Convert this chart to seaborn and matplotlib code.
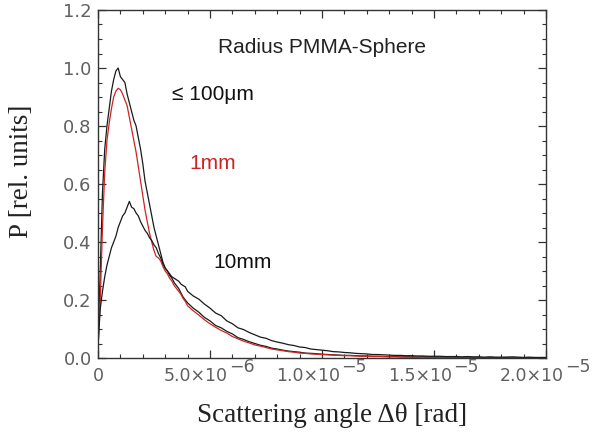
import numpy as np
import pandas as pd
import matplotlib
matplotlib.use("Agg")
import matplotlib.pyplot as plt
import seaborn as sns
from matplotlib.ticker import MultipleLocator, FixedLocator
from matplotlib.transforms import offset_copy

# ---- data (angles in micro-rad, values in rel. units) ----
x_fine = [round(0.1 * i, 2) for i in range(40)]           # 0.0 .. 3.9
x_tail = [4.0 + 0.25 * i for i in range(65)]              # 4.0 .. 20.0

small_fine = [0.05, 0.30, 0.57, 0.72, 0.80, 0.86, 0.92, 0.96, 0.99, 1.00,
              0.97, 0.96, 0.95, 0.91, 0.88, 0.85, 0.82, 0.80, 0.76, 0.72,
              0.67, 0.61, 0.57, 0.53, 0.49, 0.45, 0.42, 0.39, 0.36, 0.33,
              0.31, 0.30, 0.285, 0.275, 0.26, 0.25, 0.24, 0.225, 0.21, 0.20]
small_tail = [0.190, 0.172, 0.158, 0.140, 0.128, 0.112, 0.104, 0.092, 0.083, 0.070,
              0.064, 0.056, 0.050, 0.044, 0.040, 0.034, 0.031, 0.027, 0.024, 0.022,
              0.020, 0.017, 0.016, 0.015, 0.013, 0.012, 0.011, 0.010, 0.009, 0.009,
              0.008, 0.007, 0.007, 0.006, 0.006, 0.005, 0.005, 0.005, 0.004, 0.004,
              0.004, 0.003, 0.004, 0.003, 0.003, 0.003, 0.002, 0.003, 0.002, 0.002,
              0.002, 0.002, 0.002, 0.001, 0.002, 0.001, 0.001, 0.002, 0.001, 0.001,
              0.001, 0.001, 0.001, 0.001, 0.001]

mm1_fine = [0.03, 0.20, 0.45, 0.64, 0.75, 0.81, 0.86, 0.90, 0.92, 0.93,
            0.925, 0.91, 0.89, 0.87, 0.83, 0.79, 0.75, 0.71, 0.66, 0.61,
            0.56, 0.51, 0.47, 0.43, 0.40, 0.37, 0.35, 0.345, 0.335, 0.315,
            0.30, 0.29, 0.275, 0.265, 0.25, 0.24, 0.23, 0.22, 0.205, 0.195]
mm1_tail = [0.180, 0.163, 0.148, 0.132, 0.118, 0.106, 0.095, 0.086, 0.074, 0.066,
            0.058, 0.052, 0.045, 0.041, 0.036, 0.031, 0.028, 0.025, 0.022, 0.020,
            0.017, 0.016, 0.014, 0.013, 0.012, 0.011, 0.010, 0.009, 0.008, 0.008,
            0.007, 0.006, 0.006, 0.005, 0.005, 0.005, 0.004, 0.004, 0.004, 0.003,
            0.003, 0.003, 0.003, 0.002, 0.003, 0.002, 0.002, 0.002, 0.002, 0.001,
            0.002, 0.001, 0.001, 0.001, 0.001, 0.001, 0.001, 0.001, 0.001, 0.001,
            0.000, 0.001, 0.001, 0.000, 0.001]

mm10_fine = [0.04, 0.17, 0.23, 0.28, 0.32, 0.35, 0.38, 0.40, 0.42, 0.45,
             0.47, 0.49, 0.50, 0.52, 0.54, 0.52, 0.515, 0.50, 0.49, 0.47,
             0.455, 0.44, 0.43, 0.415, 0.405, 0.39, 0.38, 0.36, 0.345, 0.325,
             0.31, 0.30, 0.29, 0.28, 0.275, 0.27, 0.265, 0.255, 0.25, 0.245]
mm10_tail = [0.230, 0.214, 0.203, 0.186, 0.172, 0.155, 0.146, 0.128, 0.118, 0.104,
             0.098, 0.088, 0.080, 0.072, 0.068, 0.060, 0.055, 0.051, 0.046, 0.043,
             0.038, 0.036, 0.031, 0.029, 0.027, 0.025, 0.022, 0.021, 0.019, 0.018,
             0.016, 0.015, 0.014, 0.012, 0.012, 0.011, 0.010, 0.009, 0.009, 0.008,
             0.008, 0.007, 0.007, 0.006, 0.006, 0.006, 0.005, 0.005, 0.005, 0.004,
             0.005, 0.004, 0.004, 0.003, 0.004, 0.003, 0.003, 0.003, 0.004, 0.003,
             0.002, 0.003, 0.002, 0.002, 0.002]

series_names = ["small", "1mm", "10mm"]
x_ticks = [0, 5e-6, 1e-5, 1.5e-5, 2e-5]
x_tick_main = ["0", "5.0\u00d710", "1.0\u00d710", "1.5\u00d710", "2.0\u00d710"]
x_tick_exp = ["", "\u22126", "\u22125", "\u22125", "\u22125"]
y_ticks = [0.0, 0.2, 0.4, 0.6, 0.8, 1.0, 1.2]
y_ticklabels = ["0.0", "0.2", "0.4", "0.6", "0.8", "1.0", "1.2"]

# ---- build long table ----
xs = np.array(x_fine + x_tail) * 1e-6
frames = []
for name, f, t in [("small", small_fine, small_tail),
                   ("1mm", mm1_fine, mm1_tail),
                   ("10mm", mm10_fine, mm10_tail)]:
    frames.append(pd.DataFrame({"theta": xs, "P": np.array(f + t), "series": name}))
df = pd.concat(frames, ignore_index=True)

sns.set_style("ticks")
plt.rcParams["font.family"] = ["DejaVu Sans"]

W, H = 593, 432
fig = plt.figure(figsize=(W / 100, H / 100), dpi=100)
ax = fig.add_axes([98 / W, 1 - 358 / H, (546 - 98) / W, (358 - 10) / H])

red = "#cc2424"
palette = {"small": "#1a1a1a", "1mm": red, "10mm": "#1a1a1a"}
sns.lineplot(data=df, x="theta", y="P", hue="series", hue_order=series_names,
             palette=palette, estimator=None, sort=False, legend=False,
             linewidth=0.9, ax=ax)

ax.set_xlim(0, 2.0e-5)
ax.set_ylim(0, 1.2)
ax.xaxis.set_major_locator(FixedLocator(x_ticks))
ax.set_xticklabels([""] * len(x_ticks))
ax.xaxis.set_minor_locator(MultipleLocator(1e-6))
ax.yaxis.set_major_locator(FixedLocator(y_ticks))
ax.set_yticklabels(y_ticklabels)
ax.yaxis.set_minor_locator(MultipleLocator(0.05))

gray = "#606060"
tick_fs = 13
xtick_fs = 12.5
ax.tick_params(which="both", direction="in", top=True, right=True,
               color="#333333", labelcolor=gray, labelsize=tick_fs)
ax.tick_params(which="major", length=6, width=0.9)
ax.tick_params(which="minor", length=3, width=0.8)
ax.tick_params(axis="y", which="major", pad=4.5)
for s in ax.spines.values():
    s.set_color("#333333")
    s.set_linewidth(1.0)
    s.set_visible(True)
ax.set_xlabel("")
ax.set_ylabel("")

# x tick labels (IDL style: large raised exponent)
xtrans = ax.get_xaxis_transform()
for val, main, ex in zip(x_ticks, x_tick_main, x_tick_exp):
    if ex == "":
        ax.text(val, 0, main, transform=offset_copy(xtrans, fig, x=0, y=-18, units="dots"),
                ha="center", va="center", fontsize=xtick_fs, color=gray, clip_on=False)
    else:
        ax.text(val, 0, main, transform=offset_copy(xtrans, fig, x=18, y=-18, units="dots"),
                ha="right", va="center", fontsize=xtick_fs, color=gray, clip_on=False)
        ax.text(val, 0, ex, transform=offset_copy(xtrans, fig, x=19, y=-9, units="dots"),
                ha="left", va="center", fontsize=xtick_fs, color=gray, clip_on=False)

# annotations
ann_fs = 15
ax.text(10.0e-6, 1.072, "Radius PMMA-Sphere", ha="center", va="center",
        fontsize=ann_fs, family="Liberation Sans", color="#222222")
ax.text(3.3e-6, 0.91, "\u2264 100\u03bcm", ha="left", va="center",
        fontsize=ann_fs, family="Liberation Sans", color="#111111")
ax.text(4.1e-6, 0.672, "1mm", ha="left", va="center",
        fontsize=ann_fs, family="Liberation Sans", color=red)
ax.text(5.13e-6, 0.331, "10mm", ha="left", va="center",
        fontsize=ann_fs, family="Liberation Sans", color="#111111")

fig.text(332 / W, 1 - 416 / H, "Scattering angle \u0394\u03b8 [rad]", ha="center",
         va="center", fontsize=19.5, family="Liberation Serif", color="#222222")
fig.text(22 / W, 1 - 171 / H, "P [rel. units]", ha="center", va="center",
         rotation=90, fontsize=19.5, family="Liberation Serif", color="#222222")

fig.savefig("out.png", dpi=100)
